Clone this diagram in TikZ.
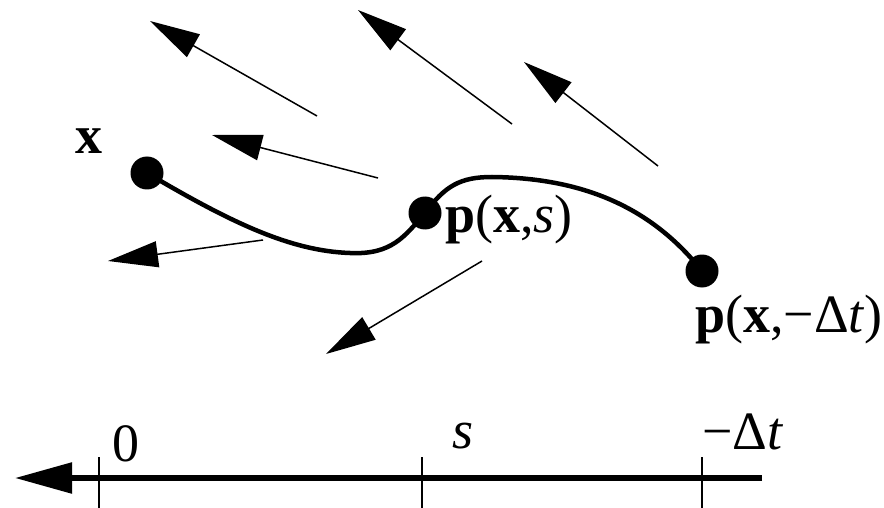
\documentclass[tikz,border=0pt]{standalone}
\usepackage{fontspec}
\setmainfont{Liberation Serif}
\usetikzlibrary{arrows.meta}
\tikzset{
  vec/.style={line width=1.5pt, -{Triangle[length=50pt,width=26pt]}},
  dot/.style={circle, fill=black, inner sep=0pt, minimum size=33pt},
  lbl/.style={inner sep=0pt, anchor=base west, font=\fontsize{54}{60}\selectfont},
  path/.style={line width=4.5pt},
  axis/.style={line width=5.5pt, -{Triangle[length=57pt,width=30pt]}},
  tick/.style={line width=1.5pt}
}
\begin{document}
\begin{tikzpicture}[x=1pt,y=-1pt]
\useasboundingbox (0,0) rectangle (884,508);
% vector field arrows
\coordinate (a1s) at (317,116); \coordinate (a1e) at (150,21);
\coordinate (a2s) at (512,124); \coordinate (a2e) at (358,10);
\coordinate (a3s) at (658,166); \coordinate (a3e) at (524,62);
\coordinate (a4s) at (378,178); \coordinate (a4e) at (212,135);
\coordinate (a5s) at (263,240); \coordinate (a5e) at (108,261);
\coordinate (a6s) at (482,261); \coordinate (a6e) at (326,354);
\draw[vec] (a1s) -- (a1e);
\draw[vec] (a2s) -- (a2e);
\draw[vec] (a3s) -- (a3e);
\draw[vec] (a4s) -- (a4e);
\draw[vec] (a5s) -- (a5e);
\draw[vec] (a6s) -- (a6e);
% dots
\node[dot] (x) at (147,173) {};
\node[dot] (ps) at (425,213) {};
\node[dot] (pt) at (702,271) {};
% curve
\draw[path] (x.center) .. controls (230,222) and (290,251) .. (350,253)
  .. controls (392,255) and (405,236) .. (ps.center)
  .. controls (445,186) and (460,177) .. (492,177)
  .. controls (590,178) and (655,212) .. (pt.center);
% labels
\node[lbl] (xl) at (75,154) {\textbf{x}};
\node[lbl] (psl) at (445,232) {\textbf{p}(\textbf{x},\textit{s})};
\node[lbl] (ptl) at (695,332) {\textbf{p}(\textbf{x},−Δ\textit{t})};
% axis
\coordinate (axR) at (762,478);
\coordinate (axL) at (15,478);
\draw[axis] (axR) -- (axL);
\coordinate (t0a) at (99,457); \coordinate (t0b) at (99,508);
\coordinate (t1a) at (422,457); \coordinate (t1b) at (422,508);
\coordinate (t2a) at (702,457); \coordinate (t2b) at (702,508);
\draw[tick] (t0a) -- (t0b);
\draw[tick] (t1a) -- (t1b);
\draw[tick] (t2a) -- (t2b);
\node[lbl] (l0) at (112,461) {0};
\node[lbl] (l1) at (452,448) {\textit{s}};
\node[lbl] (l2) at (702,449) {−Δ\textit{t}};
\end{tikzpicture}
\end{document}
